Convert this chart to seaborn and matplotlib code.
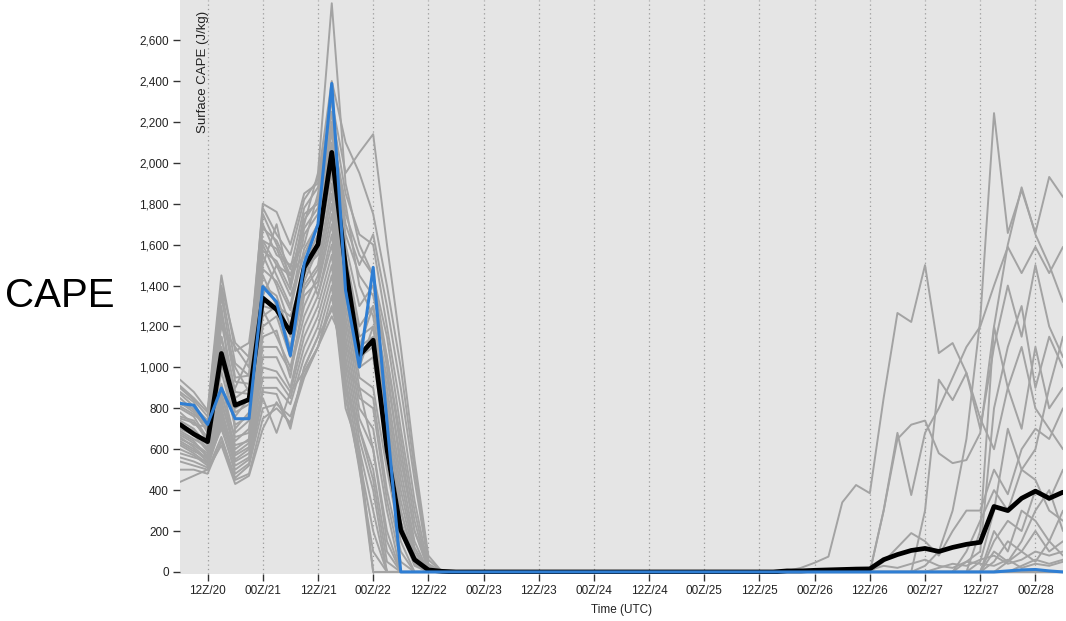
import numpy as np
import pandas as pd
import matplotlib
matplotlib.use("Agg")
import matplotlib.pyplot as plt
import matplotlib.dates as mdates
import matplotlib.ticker as mticker
import seaborn as sns

# ---------------------------------------------------------------------------
# Surface CAPE (J/kg), 3-hourly, 06Z/20 .. 06Z/28
# Values are split into an early block (steps 0-19) and a late block
# (steps 44-64); steps 20-43 are zero for every run.
# ---------------------------------------------------------------------------
start_time = "2021-06-20 06:00"
n_steps = 65
n_gap = 24

control_early = [824, 815, 721, 899, 749, 749, 1395, 1320, 1058, 1508,
                 1700, 2388, 1377, 1002, 1489, 736, 0, 0, 0, 0]
control_late = [0, 0, 0, 0, 0, 0, 0, 0, 0, 0, 0, 0, 0, 0, 0, 0,
                5, 10, 12, 5, 0]

mean_early = [721, 674, 637, 1068, 815, 843, 1339, 1283, 1171, 1489,
              1601, 2051, 1489, 1058, 1133, 600, 205, 60, 10, 3]
mean_late = [5, 5, 8, 10, 12, 14, 15, 60, 85, 105, 115, 100, 120, 135,
             145, 320, 300, 360, 395, 360, 390]

members_early = [
    [940, 880, 790, 1450, 1080, 1120, 1620, 1500, 1450, 1700, 1950, 2780, 1900, 1600, 1450, 1050, 600, 200, 30, 0],
    [900, 840, 760, 1200, 1100, 1000, 1800, 1760, 1600, 1850, 1900, 2300, 1950, 2050, 2140, 1600, 1100, 550, 80, 0],
    [880, 830, 700, 1350, 950, 960, 1500, 1700, 1400, 1750, 1800, 2200, 1700, 1500, 1650, 1300, 900, 450, 40, 0],
    [850, 790, 730, 1000, 900, 1050, 1700, 1550, 1500, 1600, 1850, 2250, 1600, 1300, 1400, 1000, 500, 150, 0, 0],
    [820, 800, 680, 1250, 1000, 880, 1600, 1450, 1300, 1650, 1750, 2150, 1800, 1400, 1250, 850, 400, 100, 0, 0],
    [800, 760, 650, 1150, 850, 900, 1350, 1500, 1350, 1550, 1700, 2100, 1550, 1200, 1300, 900, 450, 120, 0, 0],
    [780, 720, 710, 1100, 780, 820, 1550, 1400, 1200, 1500, 1650, 2050, 1500, 1100, 1150, 700, 300, 60, 0, 0],
    [760, 740, 640, 900, 760, 850, 1450, 1300, 1250, 1450, 1600, 2000, 1450, 1000, 1050, 600, 250, 40, 0, 0],
    [740, 700, 620, 1050, 700, 780, 1400, 1350, 1150, 1480, 1550, 1980, 1400, 1050, 1100, 650, 200, 30, 0, 0],
    [720, 690, 600, 980, 720, 760, 1250, 1300, 1100, 1420, 1580, 1950, 1350, 950, 900, 500, 150, 0, 0, 0],
    [700, 670, 590, 1300, 680, 740, 1300, 1280, 1080, 1400, 1500, 1900, 1300, 900, 850, 400, 100, 0, 0, 0],
    [690, 650, 610, 920, 640, 700, 1200, 1250, 1050, 1380, 1480, 1850, 1250, 850, 800, 350, 50, 0, 0, 0],
    [680, 640, 560, 860, 660, 680, 1280, 1150, 1000, 1300, 1450, 1800, 1200, 800, 700, 300, 0, 0, 0, 0],
    [670, 630, 580, 880, 600, 650, 1150, 1180, 950, 1350, 1420, 1750, 1150, 750, 600, 200, 0, 0, 0, 0],
    [660, 610, 550, 820, 620, 640, 1100, 1100, 980, 1250, 1400, 1700, 1100, 700, 500, 100, 0, 0, 0, 0],
    [650, 620, 570, 840, 580, 630, 1750, 1600, 1450, 1550, 1350, 1650, 1050, 650, 400, 0, 0, 0, 0, 0],
    [640, 600, 540, 780, 570, 610, 1050, 1050, 900, 1200, 1350, 1600, 1000, 600, 0, 0, 0, 0, 0, 0],
    [630, 590, 560, 800, 550, 600, 1000, 980, 880, 1150, 1300, 1550, 950, 550, 200, 0, 0, 0, 0, 0],
    [620, 580, 530, 760, 540, 580, 950, 950, 850, 1100, 1250, 1500, 900, 500, 100, 0, 0, 0, 0, 0],
    [600, 570, 520, 740, 520, 560, 900, 900, 820, 1050, 1200, 1450, 850, 520, 0, 0, 0, 0, 0, 0],
    [580, 560, 540, 700, 500, 550, 880, 870, 700, 1000, 1150, 1400, 800, 600, 300, 0, 0, 0, 0, 0],
    [560, 540, 510, 720, 480, 530, 850, 680, 880, 980, 1100, 1350, 900, 700, 450, 50, 0, 0, 0, 0],
    [540, 520, 500, 660, 460, 520, 800, 820, 760, 960, 1100, 1300, 1000, 900, 600, 150, 0, 0, 0, 0],
    [500, 500, 480, 640, 450, 480, 750, 800, 730, 950, 1100, 1250, 1100, 1000, 1200, 800, 350, 80, 0, 0],
    [440, 470, 500, 620, 430, 470, 700, 830, 720, 1000, 1150, 1280, 1200, 1100, 1300, 950, 550, 200, 10, 0],
    [910, 850, 780, 1400, 1120, 1050, 1780, 1650, 1550, 1820, 1920, 2400, 2100, 1950, 1750, 1400, 1000, 500, 60, 0],
    [870, 810, 740, 1380, 1020, 960, 1680, 1620, 1480, 1780, 1880, 2250, 1850, 1650, 1600, 1200, 800, 350, 20, 0],
    [830, 780, 690, 1280, 930, 920, 1620, 1580, 1420, 1720, 1820, 2180, 1750, 1550, 1450, 1150, 700, 300, 0, 0],
    [810, 770, 720, 1220, 880, 870, 1570, 1520, 1380, 1680, 1780, 2150, 1650, 1450, 1350, 1050, 650, 250, 0, 0],
    [750, 730, 660, 1150, 800, 840, 1480, 1420, 1280, 1580, 1700, 2080, 1520, 1150, 1200, 750, 300, 50, 0, 0],
]

# late block for the runs that develop CAPE again; remaining runs stay at 0
members_late = [
    [5, 20, 45, 75, 340, 425, 385, 850, 1266, 1222, 1500, 1070, 1119, 973, 700, 1100, 1400, 1150, 1500, 1200, 1050],
    [0, 0, 0, 0, 0, 0, 0, 0, 0, 0, 30, 100, 300, 650, 1232, 2243, 1657, 1867, 1657, 1931, 1833],
    [0, 0, 0, 0, 0, 0, 0, 300, 680, 376, 680, 800, 950, 1100, 1200, 1400, 1589, 1461, 1589, 1461, 1589],
    [0, 0, 0, 0, 0, 0, 0, 300, 650, 720, 740, 580, 532, 547, 679, 1200, 1600, 1880, 1650, 1500, 1320],
    [0, 0, 0, 0, 0, 0, 0, 0, 0, 0, 0, 0, 0, 0, 200, 1200, 900, 700, 1100, 800, 900],
    [0, 0, 0, 0, 0, 0, 0, 0, 0, 0, 0, 0, 0, 50, 100, 800, 1100, 1300, 900, 1150, 1000],
    [0, 0, 0, 0, 0, 0, 0, 0, 0, 0, 300, 940, 840, 973, 750, 600, 900, 1100, 800, 700, 600],
    [0, 0, 0, 0, 0, 0, 0, 50, 120, 190, 150, 80, 200, 300, 300, 500, 380, 600, 700, 650, 800],
    [0, 0, 0, 0, 0, 0, 0, 0, 0, 0, 0, 0, 0, 100, 250, 400, 300, 500, 450, 300, 250],
    [0, 0, 0, 0, 0, 0, 0, 0, 0, 0, 0, 0, 0, 0, 50, 300, 700, 500, 600, 900, 1150],
    [0, 0, 0, 0, 0, 0, 0, 0, 0, 0, 0, 0, 0, 0, 0, 150, 250, 200, 400, 350, 500],
    [0, 0, 0, 0, 0, 0, 0, 0, 0, 0, 0, 0, 0, 0, 0, 200, 100, 300, 250, 150, 300],
    [0, 0, 0, 0, 0, 0, 0, 0, 0, 0, 0, 0, 0, 0, 0, 100, 50, 150, 300, 400, 200],
    [0, 0, 0, 0, 0, 0, 0, 0, 0, 0, 0, 0, 0, 0, 0, 50, 150, 100, 200, 100, 150],
    [0, 0, 0, 0, 0, 0, 0, 0, 0, 0, 0, 0, 0, 0, 0, 0, 50, 100, 50, 150, 80],
    [0, 0, 0, 0, 0, 0, 0, 0, 0, 0, 0, 0, 0, 0, 0, 0, 0, 30, 60, 40, 60],
    [0, 0, 0, 0, 0, 0, 0, 0, 0, 0, 0, 20, 40, 30, 60, 80, 40, 60, 100, 80, 100],
    [0, 0, 0, 0, 0, 0, 10, 30, 20, 40, 60, 30, 20, 50, 40, 30, 60, 20, 40, 30, 50],
]

y_ticks = list(range(0, 2601, 200))


def full_series(early, late):
    return np.concatenate([np.asarray(early, float), np.zeros(n_gap),
                           np.asarray(late, float)])


times = pd.date_range(start_time, periods=n_steps, freq="3h")

rows = []
for m, early in enumerate(members_early):
    late = members_late[m] if m < len(members_late) else [0] * len(mean_late)
    vals = full_series(early, late)
    rows.append(pd.DataFrame({"time": times, "member": m, "cape": vals}))
members_df = pd.concat(rows, ignore_index=True)

mean_df = pd.DataFrame({"time": times, "cape": full_series(mean_early, mean_late)})
control_df = pd.DataFrame({"time": times, "cape": full_series(control_early, control_late)})

# ---------------------------------------------------------------------------
sns.set_style("white")
plt.rcParams["font.family"] = ["Liberation Sans", "DejaVu Sans"]

fig = plt.figure(figsize=(10.66, 6.21), dpi=100)
ax = fig.add_axes([180 / 1066, 47 / 621, 883 / 1066, 574 / 621])
ax.set_facecolor("#e5e5e5")

sns.lineplot(data=members_df, x="time", y="cape", units="member",
             estimator=None, color="#a3a3a3", linewidth=1.4, ax=ax,
             zorder=2)
sns.lineplot(data=mean_df, x="time", y="cape", color="black",
             linewidth=3.4, ax=ax, zorder=3)
sns.lineplot(data=control_df, x="time", y="cape", color="#2f7ed3",
             linewidth=2.2, ax=ax, zorder=4)

ax.set_xlim(times[0], times[-1])
ax.set_ylim(-10, 2796)

ax.xaxis.set_major_locator(mdates.HourLocator(byhour=[0, 12]))
ax.xaxis.set_major_formatter(mdates.DateFormatter("%HZ/%d"))
ax.set_yticks(y_ticks)
ax.yaxis.set_major_formatter(mticker.FuncFormatter(lambda v, p: f"{int(v):,}"))

ax.grid(axis="x", linestyle=(0, (1, 2.5)), color="#9a9a9a", linewidth=0.9)
ax.grid(axis="y", visible=False)
for side in ax.spines.values():
    side.set_visible(False)

ax.tick_params(axis="both", direction="out", length=5, width=1,
               color="#333333", labelsize=8.5, labelcolor="#222222",
               left=True, bottom=True, pad=3)

ax.set_xlabel("Time (UTC)", fontsize=8.5, color="#222222", labelpad=5)
ax.set_ylabel("")
ax.text(0.026, 1 - 133 / 574, "Surface CAPE (J/kg)", transform=ax.transAxes,
        rotation=90, ha="center", va="bottom", fontsize=9.5, color="#222222",
        zorder=5)

fig.text(5 / 1066, 1 - 296 / 621, "CAPE", fontsize=29, ha="left",
         va="center", color="black")

fig.savefig("out.png", dpi=100)
